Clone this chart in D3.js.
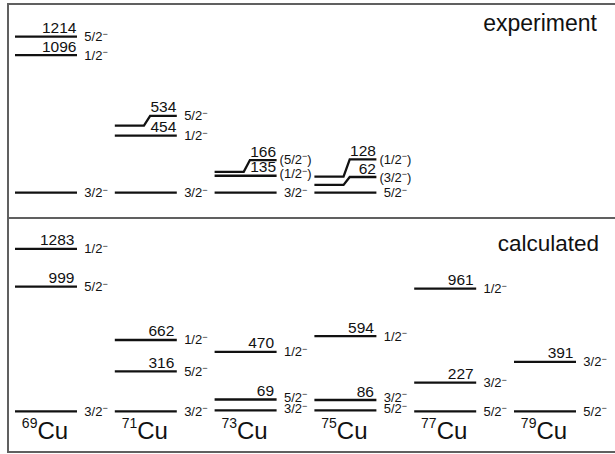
<!DOCTYPE html>
<html>
<head>
<meta charset="utf-8">
<script src="https://cdn.jsdelivr.net/npm/d3@7"></script>
<style>
  html, body { margin: 0; padding: 0; background: #fff; }
  svg { display: block; }
  text { font-family: "Liberation Sans", Arial, Helvetica, sans-serif; fill: #111; }
</style>
</head>
<body>
<svg id="chart" width="615" height="454"></svg>
<script>
// ---------------- data ----------------
const isotopes = ["69Cu", "71Cu", "73Cu", "75Cu", "77Cu", "79Cu"];
const massNumbers = ["69", "71", "73", "75", "77", "79"];
const panelTitles = ["experiment", "calculated"];

// experiment levels
const expIsotope = ["69Cu", "69Cu", "69Cu", "71Cu", "71Cu", "71Cu", "73Cu", "73Cu", "73Cu", "75Cu", "75Cu", "75Cu"];
const expEnergy  = [0, 1096, 1214, 0, 454, 534, 0, 135, 166, 0, 62, 128];
const expSpin    = ["3/2-", "1/2-", "5/2-", "3/2-", "1/2-", "5/2-", "3/2-", "(1/2-)", "(5/2-)", "5/2-", "(3/2-)", "(1/2-)"];
// drawn positions (keV) of left part, right part of each level line, and of the spin label
const expDrawLeft  = [0, 1096, 1242, 0, 454, 534, 0, 135, 166, 0, 62, 128];
const expDrawRight = [0, 1096, 1242, 0, 454, 611, 0, 135, 260, 0, 125, 266];
const expDrawSpin  = [0, 1096, 1242, 0, 454, 611, 0, 152, 265, 0, 125, 266];

// calculated levels
const calcIsotope = ["69Cu", "69Cu", "69Cu", "71Cu", "71Cu", "71Cu", "73Cu", "73Cu", "73Cu", "75Cu", "75Cu", "75Cu", "77Cu", "77Cu", "77Cu", "79Cu", "79Cu"];
const calcEnergy  = [0, 999, 1283, 0, 316, 662, 0, 69, 470, 0, 86, 594, 0, 227, 961, 0, 391];
const calcSpin    = ["3/2-", "5/2-", "1/2-", "3/2-", "5/2-", "1/2-", "3/2-", "5/2-", "1/2-", "5/2-", "3/2-", "1/2-", "5/2-", "3/2-", "1/2-", "5/2-", "3/2-"];
const calcDraw     = [0, 985, 1283, 0, 316, 564, 8, 94, 470, 8, 90, 594, 0, 227, 970, 0, 391];
const calcDrawSpin = [0, 985, 1283, 0, 316, 564, 22, 110, 470, 22, 110, 594, 0, 227, 970, 0, 391];

// ---------------- chart ----------------
const svg = d3.select("#chart");

const x = d3.scaleBand().domain(isotopes).range([15, 576]).paddingInner(0.3788).paddingOuter(0);
const bw = x.bandwidth();

const yExp  = d3.scaleLinear().domain([0, 1000]).range([192.7, 192.7 - 125.6]);
const yCalc = d3.scaleLinear().domain([0, 1000]).range([411.4, 411.4 - 126.6]);

// frame
svg.append("rect").attr("x", 8).attr("y", 4).attr("width", 612).attr("height", 448)
  .attr("fill", "none").attr("stroke", "#606060").attr("stroke-width", 2);
svg.append("line").attr("x1", 8).attr("x2", 615).attr("y1", 218).attr("y2", 218)
  .attr("stroke", "#606060").attr("stroke-width", 2);

function spinText(sel, s) {
  const i = s.indexOf("-");
  sel.append("tspan").attr("font-size", 13).text(s.slice(0, i));
  sel.append("tspan").attr("font-size", 9).attr("dy", -4.5).text("\u2212");
  const rest = s.slice(i + 1);
  if (rest.length) sel.append("tspan").attr("font-size", 13).attr("dy", 4.5).text(rest);
}

const lineGen = d3.line();

function drawLevels(y, iso, energy, spin, left, right, spinPos, inset) {
  const g = svg.append("g");
  energy.forEach((e, i) => {
    const x0 = x(iso[i]), x1 = x0 + bw;
    const yL = y(left[i]), yR = y(right[i]);
    const pts = yL === yR
      ? [[x0, yL], [x1, yR]]
      : [[x0, yL], [x0 + 0.47 * bw, yL], [x0 + 0.57 * bw, yR], [x1, yR]];
    g.append("path").attr("d", lineGen(pts)).attr("fill", "none")
      .attr("stroke", "#111").attr("stroke-width", 2.3);
    if (e > 0) {
      g.append("text").attr("x", x1 - inset).attr("y", yR - 3.5)
        .attr("text-anchor", "end").attr("font-size", 15.5).text(e);
    }
    const st = g.append("text").attr("x", x1 + 19).attr("y", y(spinPos[i]) + 4.5)
      .attr("text-anchor", "middle").attr("font-size", 13);
    spinText(st, spin[i]);
  });
}

drawLevels(yExp, expIsotope, expEnergy, expSpin, expDrawLeft, expDrawRight, expDrawSpin, 0.5);
drawLevels(yCalc, calcIsotope, calcEnergy, calcSpin, calcDraw, calcDraw, calcDrawSpin, 2.5);

// isotope labels
isotopes.forEach((iso, i) => {
  const t = svg.append("text").attr("x", x(iso) + bw / 2 - 1).attr("y", 427.5)
    .attr("text-anchor", "middle").attr("font-size", 24);
  t.append("tspan").attr("font-size", 14).text(massNumbers[i]);
  t.append("tspan").attr("font-size", 24).attr("dy", 11).text("Cu");
});

// panel titles
svg.append("text").attr("x", 597).attr("y", 30.5).attr("text-anchor", "end")
  .attr("font-size", 23).text(panelTitles[0]);
svg.append("text").attr("x", 599).attr("y", 250.5).attr("text-anchor", "end")
  .attr("font-size", 22.5).text(panelTitles[1]);
</script>
</body>
</html>
